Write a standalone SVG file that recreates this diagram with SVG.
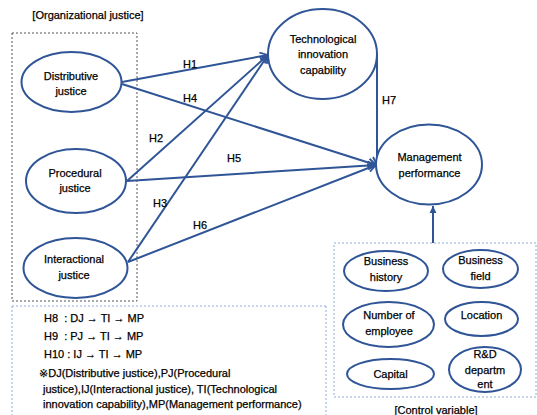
<svg xmlns="http://www.w3.org/2000/svg" width="537" height="415" viewBox="0 0 537 415">
<defs>
<style>
.n ellipse{fill:#fff;stroke:#2F5597;stroke-width:2}
text{font-family:"Liberation Sans","DejaVu Sans",sans-serif;font-size:11px;fill:#000;stroke:#000;stroke-width:0.25;white-space:pre}
.c{text-anchor:middle}
.ln{stroke:#2F5597;stroke-width:2;fill:none;marker-end:url(#ah)}
</style>
<marker id="ah" markerUnits="userSpaceOnUse" markerWidth="10" markerHeight="10" viewBox="0 0 10 10" refX="9" refY="5" orient="auto">
<path d="M1,1 L9,5 L1,9" fill="none" stroke="#2F5597" stroke-width="1.8"/>
</marker>
<marker id="ah2" markerUnits="userSpaceOnUse" markerWidth="8" markerHeight="8" viewBox="0 0 8 8" refX="7" refY="4" orient="auto">
<path d="M0,0.5 L7,4 L0,7.5 Z" fill="#2F5597"/>
</marker>
</defs>
<rect width="537" height="415" fill="#fff"/>

<text class="c" x="88" y="19">[Organizational justice]</text>
<rect x="12" y="33" width="125" height="268" fill="none" stroke="#555" stroke-width="1" stroke-dasharray="2,2"/>
<path d="M12,306 H326 M12,306 V415 M326,306 V415" fill="none" stroke="#8FAADC" stroke-width="1" stroke-dasharray="2,2"/>
<rect x="334" y="243" width="202" height="154" fill="none" stroke="#8FAADC" stroke-width="1" stroke-dasharray="2,2"/>
<text class="c" x="436" y="414">[Control variable]</text>

<g id="connectors">
<line class="ln" x1="122" y1="82" x2="268" y2="55"/>
<line class="ln" x1="122" y1="84" x2="376" y2="165"/>
<line class="ln" x1="127" y1="181" x2="268" y2="55"/>
<line class="ln" x1="127" y1="181" x2="376" y2="165"/>
<line class="ln" x1="128" y1="262" x2="268" y2="55"/>
<line class="ln" x1="128" y1="262" x2="376" y2="165"/>
<path class="ln" d="M377,54 V165"/>
<line x1="433" y1="243" x2="433" y2="206" stroke="#2F5597" stroke-width="2" marker-end="url(#ah2)"/>
<text x="183" y="68">H1</text>
<text x="183" y="102">H4</text>
<text x="149" y="142">H2</text>
<text x="227" y="162">H5</text>
<text x="153" y="207">H3</text>
<text x="193" y="229">H6</text>
<text x="382" y="104">H7</text>
</g>

<g id="dj" class="n"><ellipse cx="71.5" cy="82" rx="50" ry="30"/><text class="c" x="71" y="80">Distributive</text><text class="c" x="71" y="95">justice</text></g>
<g id="pj" class="n"><ellipse cx="76" cy="181" rx="50" ry="32"/><text class="c" x="75" y="177">Procedural</text><text class="c" x="75" y="192">justice</text></g>
<g id="ij" class="n"><ellipse cx="75.5" cy="268" rx="52" ry="30"/><text class="c" x="74" y="263">Interactional</text><text class="c" x="74" y="279">justice</text></g>
<g id="ti" class="n"><ellipse cx="322.5" cy="54" rx="54.5" ry="45"/><text class="c" x="323" y="43">Technological</text><text class="c" x="323" y="58">innovation</text><text class="c" x="323" y="74">capability</text></g>
<g id="mp" class="n"><ellipse cx="429" cy="164.5" rx="53" ry="40"/><text class="c" x="429.5" y="161">Management</text><text class="c" x="429.5" y="177">performance</text></g>

<g id="bh" class="n"><ellipse cx="386" cy="271" rx="42" ry="20"/><text class="c" x="386" y="265">Business</text><text class="c" x="386" y="281">history</text></g>
<g id="bf" class="n"><ellipse cx="480.5" cy="269" rx="37.5" ry="19"/><text class="c" x="480.5" y="264">Business</text><text class="c" x="480.5" y="280">field</text></g>
<g id="ne" class="n"><ellipse cx="388.5" cy="324.5" rx="45.5" ry="22.5"/><text class="c" x="389" y="319">Number of</text><text class="c" x="389" y="335">employee</text></g>
<g id="lo" class="n"><ellipse cx="481.5" cy="319" rx="36.5" ry="17"/><text class="c" x="481.5" y="319">Location</text></g>
<g id="ca" class="n"><ellipse cx="390.5" cy="374" rx="43.5" ry="15"/><text class="c" x="390.5" y="378">Capital</text></g>
<g id="rd" class="n"><ellipse cx="485" cy="369.5" rx="36" ry="22.5"/><text class="c" x="485" y="358">R&amp;D</text><text class="c" x="485" y="374">departm</text><text class="c" x="485" y="388">ent</text></g>

<g id="notes">
<text x="44" y="322">H8  : DJ → TI → MP</text>
<text x="44" y="340">H9  : PJ → TI → MP</text>
<text x="44" y="358">H10 : IJ → TI → MP</text>
<text x="39" y="377">※DJ(Distributive justice),PJ(Procedural</text>
<text x="43" y="393">justice),IJ(Interactional justice), TI(Technological</text>
<text x="43" y="408">innovation capability),MP(Management performance)</text>
</g>
</svg>
